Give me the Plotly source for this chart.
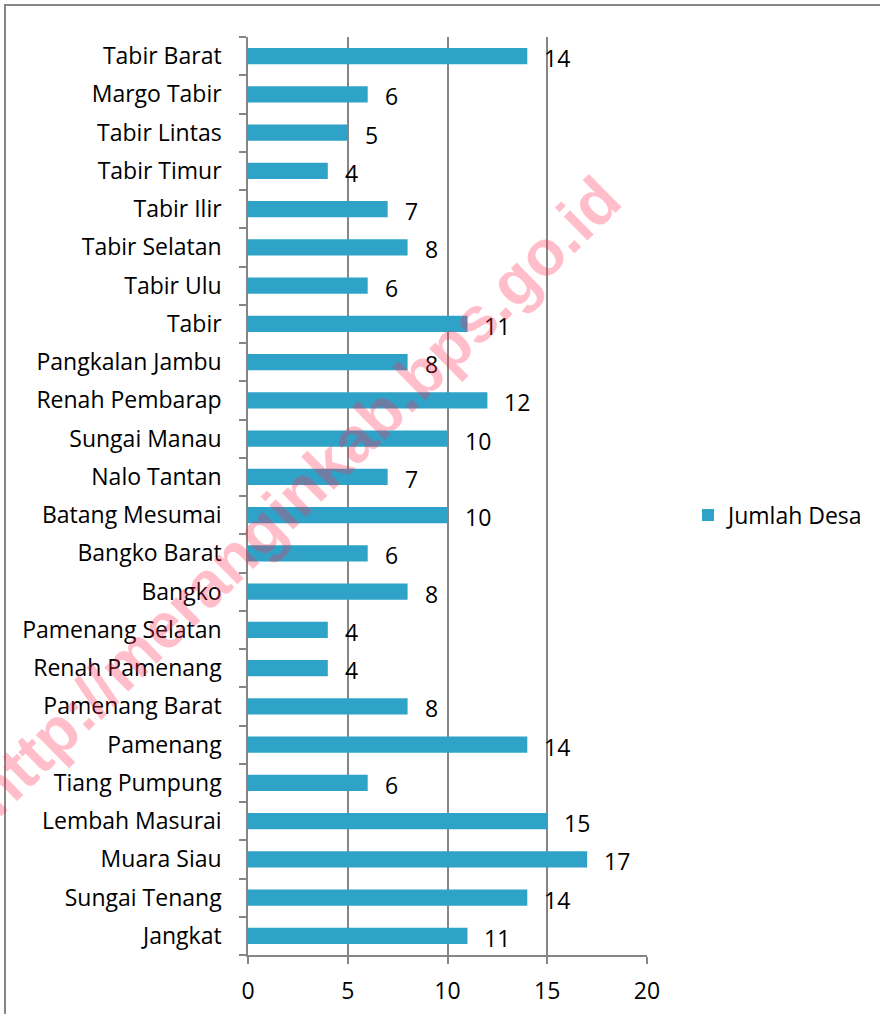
import plotly.graph_objects as go

categories = ["Jangkat", "Sungai Tenang", "Muara Siau", "Lembah Masurai", "Tiang Pumpung",
              "Pamenang", "Pamenang Barat", "Renah Pamenang", "Pamenang Selatan", "Bangko",
              "Bangko Barat", "Batang Mesumai", "Nalo Tantan", "Sungai Manau", "Renah Pembarap",
              "Pangkalan Jambu", "Tabir", "Tabir Ulu", "Tabir Selatan", "Tabir Ilir",
              "Tabir Timur", "Tabir Lintas", "Margo Tabir", "Tabir Barat"]
jumlah_desa = [11, 14, 17, 15, 6, 14, 8, 4, 4, 8, 6, 10, 7, 10, 12, 8, 11, 6, 8, 7, 4, 5, 6, 14]
series_name = "Jumlah Desa"
x_ticks = [0, 5, 10, 15, 20]
watermark = "http://meranginkab.bps.go.id"

FONT = "Open Sans"
FS = 23
GRAY = "#868686"

L, R_EDGE, T, B_EDGE = 248, 647, 37, 955
PW, PH = R_EDGE - L, B_EDGE - T

fig = go.Figure()
fig.add_trace(go.Bar(
    x=jumlah_desa, y=categories, orientation="h", name=series_name,
    marker=dict(color="#2fa3c7", line=dict(width=0)),
    showlegend=True,
))

for c, v in zip(categories, jumlah_desa):
    fig.add_annotation(x=v, y=c, text=str(v), xanchor="left", yanchor="middle",
                       xshift=15, yshift=-2, showarrow=False,
                       font=dict(family=FONT, size=FS, color="#000000"))

# watermark
fig.add_annotation(xref="paper", yref="paper", x=(296 - L) / PW, y=(B_EDGE - 496) / PH,
                   xanchor="center", yanchor="middle",
                   text="<b>" + watermark + "</b>", textangle=-44.5, showarrow=False,
                   font=dict(family="Liberation Sans", size=64, color="rgba(255,40,80,0.30)"))

# outer frame
fig.add_shape(type="rect", xref="paper", yref="paper",
              x0=(5 - L) / PW, x1=(895 - L) / PW,
              y0=(B_EDGE - 1030) / PH, y1=(B_EDGE - 5) / PH,
              line=dict(color=GRAY, width=2), fillcolor="rgba(0,0,0,0)", layer="above")

fig.update_layout(
    width=880, height=1014,
    margin=dict(l=L, r=880 - R_EDGE, t=T, b=1014 - B_EDGE, autoexpand=False),
    paper_bgcolor="white", plot_bgcolor="white",
    bargap=0.58,
    font=dict(family=FONT, size=FS, color="#000000"),
    legend=dict(x=(688 - L) / PW, y=(B_EDGE - 515) / PH, xanchor="left", yanchor="middle",
                font=dict(family=FONT, size=FS, color="#000000"), itemwidth=30),
    xaxis=dict(range=[0, 20], tickvals=x_ticks, showgrid=True, gridcolor=GRAY, gridwidth=1.5,
               showline=True, linecolor=GRAY, linewidth=1.5, ticks="outside", ticklen=7,
               tickcolor=GRAY, tickwidth=1.5, zeroline=False, ticklabelstandoff=8,
               tickfont=dict(family=FONT, size=FS), automargin=False),
    yaxis=dict(type="category", categoryorder="array", categoryarray=categories,
               range=[-0.5, 23.5], showline=True, linecolor=GRAY, linewidth=1.5,
               ticks="outside", ticklen=7, tickcolor=GRAY, tickwidth=1.5,
               tickson="boundaries", showgrid=False, ticklabelstandoff=20,
               tickfont=dict(family=FONT, size=FS), automargin=False),
)

fig.write_html("out.html", config={"displayModeBar": False},
               post_script="document.body.style.margin='0';")
